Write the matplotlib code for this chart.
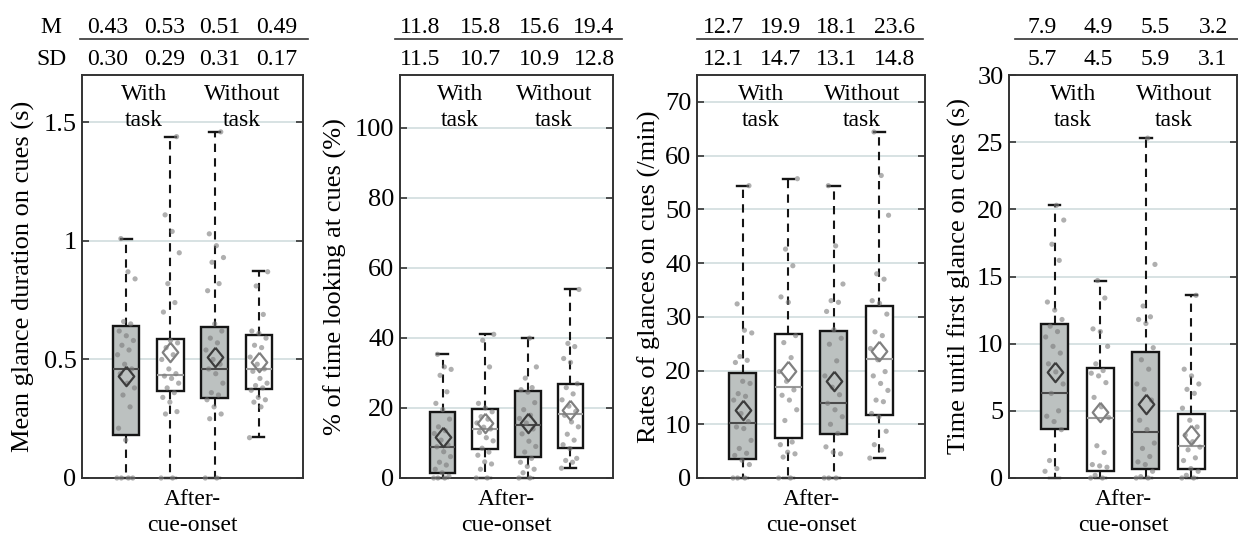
import numpy as np
import matplotlib.pyplot as plt

plt.rcParams['font.family'] = ['Liberation Serif', 'DejaVu Serif']

# box statistics (order: with task A, with task B, without task A, without task B)
dur_q1 = [0.18, 0.367, 0.337, 0.375]
dur_med = [0.46, 0.435, 0.46, 0.46]
dur_q3 = [0.64, 0.587, 0.637, 0.603]
dur_lo = [0.0, 0.0, 0.0, 0.173]
dur_hi = [1.01, 1.44, 1.46, 0.875]
dur_m = [0.43, 0.53, 0.51, 0.49]
dur_sd = [0.30, 0.29, 0.31, 0.17]

pct_q1 = [1.4, 8.3, 6.0, 8.6]
pct_med = [8.9, 14.0, 15.1, 18.3]
pct_q3 = [18.9, 19.7, 24.8, 26.8]
pct_lo = [0.0, 0.0, 0.0, 2.8]
pct_hi = [35.3, 41.0, 39.9, 53.8]
pct_m = [11.8, 15.8, 15.6, 19.4]
pct_sd = [11.5, 10.7, 10.9, 12.8]

rate_q1 = [3.5, 7.4, 8.1, 11.8]
rate_med = [10.3, 17.0, 14.0, 22.1]
rate_q3 = [19.5, 26.8, 27.3, 32.1]
rate_lo = [0.0, 0.0, 0.0, 3.7]
rate_hi = [54.4, 55.7, 54.4, 64.4]
rate_m = [12.7, 19.9, 18.1, 23.6]
rate_sd = [12.1, 14.7, 13.1, 14.8]

ttf_q1 = [3.65, 0.55, 0.7, 0.7]
ttf_med = [6.3, 4.5, 3.4, 2.4]
ttf_q3 = [11.5, 8.2, 9.4, 4.8]
ttf_lo = [0.0, 0.0, 0.0, 0.0]
ttf_hi = [20.3, 14.7, 25.3, 13.6]
ttf_m = [7.9, 4.9, 5.5, 3.2]
ttf_sd = [5.7, 4.5, 5.9, 3.1]

# individual participant values (estimated from the dots)
dur_pts = [
    [0, 0, 0, 0, 0.16, 0.21, 0.30, 0.35, 0.38, 0.40, 0.44, 0.46, 0.48, 0.52, 0.54, 0.56, 0.58, 0.60, 0.62, 0.65, 0.66, 0.84, 0.87, 1.01],
    [0, 0, 0.27, 0.28, 0.32, 0.34, 0.36, 0.38, 0.40, 0.42, 0.43, 0.44, 0.46, 0.50, 0.52, 0.55, 0.57, 0.58, 0.70, 0.74, 0.82, 0.95, 1.04, 1.11, 1.44],
    [0, 0, 0.25, 0.27, 0.30, 0.33, 0.35, 0.36, 0.40, 0.44, 0.46, 0.48, 0.50, 0.54, 0.57, 0.59, 0.62, 0.65, 0.79, 0.82, 0.91, 0.93, 0.98, 1.03, 1.46],
    [0.17, 0.30, 0.32, 0.33, 0.34, 0.37, 0.38, 0.39, 0.40, 0.42, 0.45, 0.46, 0.48, 0.51, 0.55, 0.56, 0.59, 0.61, 0.62, 0.69, 0.81, 0.87],
]
pct_pts = [
    [0, 0, 0, 0.5, 1.5, 2.5, 3.7, 4.5, 6.1, 7.5, 8.9, 9.5, 10.8, 12.7, 13.5, 14.6, 16.8, 19.5, 21.3, 24.6, 29.3, 31.0, 31.7, 35.3],
    [0, 0, 2.5, 4.0, 4.6, 6.5, 7.4, 8.5, 10.6, 11.5, 13.0, 14.0, 14.5, 15.7, 16.8, 17.5, 18.9, 20.0, 21.3, 31.7, 39.3, 41.0],
    [0, 0, 1.5, 2.5, 3.3, 4.5, 5.6, 7.4, 9.0, 10.5, 12.6, 14.0, 15.7, 17.0, 17.9, 19.5, 21.5, 24.5, 25.2, 25.8, 28.5, 31.7, 39.9],
    [2.8, 4.5, 5.0, 5.6, 8.4, 9.5, 10.8, 12.5, 14.6, 16.0, 17.9, 19.0, 20.5, 22.3, 24.0, 25.8, 26.9, 33.0, 34.1, 37.5, 38.4, 53.8],
]
rate_pts = [
    [0, 0, 0, 2.5, 3.3, 4.2, 4.6, 5.5, 7.0, 9.2, 9.5, 10.5, 12.0, 14.5, 15.2, 15.7, 17.6, 18.0, 21.5, 21.9, 22.6, 27.0, 27.5, 32.4, 54.4],
    [0, 0, 3.9, 4.5, 4.8, 6.2, 6.7, 10.7, 12.7, 14.5, 15.4, 16.4, 18.0, 19.8, 22.4, 25.2, 26.5, 32.7, 33.7, 39.5, 42.6, 55.7],
    [0, 0, 0, 4.5, 4.8, 5.8, 8.3, 10.0, 11.4, 12.7, 13.9, 15.5, 16.9, 19.0, 21.8, 24.9, 26.0, 27.6, 31.0, 32.7, 33.0, 36.1, 43.2, 54.4],
    [3.7, 5.2, 6.2, 8.7, 11.4, 12.0, 14.2, 14.5, 16.3, 17.6, 19.0, 19.8, 22.0, 24.1, 26.5, 27.2, 30.5, 32.5, 33.0, 37.0, 38.0, 48.9, 56.3, 64.4],
]
ttf_pts = [
    [0.5, 0.7, 1.3, 3.6, 4.2, 4.6, 5.0, 6.3, 7.0, 7.9, 8.5, 9.3, 9.8, 10.5, 10.9, 11.3, 11.8, 12.5, 13.1, 16.2, 17.4, 19.2, 20.3],
    [0, 0, 0.2, 0.8, 0.9, 1.0, 1.9, 2.4, 4.5, 5.3, 6.0, 7.1, 7.6, 7.8, 8.0, 8.5, 9.8, 10.9, 11.1, 13.4, 14.7],
    [0, 0, 0.1, 0.5, 1.0, 1.2, 1.6, 2.2, 2.6, 3.6, 4.3, 5.8, 6.6, 7.0, 8.1, 8.8, 9.7, 11.5, 11.8, 12.0, 12.8, 15.9, 25.3],
    [0, 0, 0.2, 0.5, 0.7, 1.3, 1.5, 2.1, 2.3, 2.7, 3.2, 3.8, 4.3, 5.2, 6.3, 6.6, 7.0, 7.6, 8.1, 13.6],
]

ylabels = ['Mean glance duration on cues (s)', '% of time looking at cues (%)',
           'Rates of glances on cues (/min)', 'Time until first glance on cues (s)']
xlabel_lines = ['After-', 'cue-onset']
groups = [('With', 'task'), ('Without', 'task')]

panels = [
    (dur_q1, dur_med, dur_q3, dur_lo, dur_hi, dur_m, dur_sd, dur_pts),
    (pct_q1, pct_med, pct_q3, pct_lo, pct_hi, pct_m, pct_sd, pct_pts),
    (rate_q1, rate_med, rate_q3, rate_lo, rate_hi, rate_m, rate_sd, rate_pts),
    (ttf_q1, ttf_med, ttf_q3, ttf_lo, ttf_hi, ttf_m, ttf_sd, ttf_pts),
]

# layout (pixels in a 1238x535 figure)
W, H = 1238, 535
ax_x = [(82, 303), (400, 613), (697, 925), (1009, 1237)]
ax_top, ax_bot = 75, 478
ylims = [1.7, 115, 75, 30]
yticks = [[0, 0.5, 1, 1.5], [0, 20, 40, 60, 80, 100], list(range(0, 71, 10)), [0, 5, 10, 15, 20, 25, 30]]
ytick_labels = [['0', '0.5', '1', '1.5'], None, None, None]
col_x = [[0.118, 0.376, 0.624, 0.882], [0.094, 0.376, 0.657, 0.911],
         [0.118, 0.368, 0.614, 0.868], [0.145, 0.39, 0.64, 0.895]]
line_x = [(-0.009, 1.023), (-0.023, 1.042), (0.0, 0.99), (0.026, 1.03)]
ylab_x = [-0.267, -0.305, -0.21, -0.219]

def yfrac(px):
    return (ax_bot - px) / (ax_bot - ax_top)

gray = '#bcc1c0'
face = [gray, 'white', gray, 'white']
med_col = ['#4a4a4a', '#9a9a9a', '#4a4a4a', '#9a9a9a']
dia_col = ['#3c3c3c', '#808080', '#3c3c3c', '#808080']
diamond = [(0, 1), (0.8, 0), (0, -1), (-0.8, 0), (0, 1)]
pos = [1, 2, 3, 4]

fig = plt.figure(figsize=(W / 100, H / 100), dpi=100)

for i, (q1, med, q3, lo, hi, m, sd, pts) in enumerate(panels):
    x0, x1 = ax_x[i]
    ax = fig.add_axes([x0 / W, 1 - ax_bot / H, (x1 - x0) / W, (ax_bot - ax_top) / H])
    ax.set_xlim(0, 5)
    ax.set_ylim(0, ylims[i])
    ax.yaxis.grid(True, color='#d4dfe0', lw=1.3)
    ax.set_axisbelow(True)

    stats = [dict(q1=q1[k], med=med[k], q3=q3[k], whislo=lo[k], whishi=hi[k], fliers=[])
             for k in range(4)]
    bp = ax.bxp(stats, positions=pos, widths=0.6, patch_artist=True, showfliers=False,
                capwidths=0.25,
                boxprops=dict(edgecolor='#151515', lw=1.7),
                whiskerprops=dict(color='#151515', lw=1.5, linestyle=(0, (4, 3))),
                capprops=dict(color='#151515', lw=1.7),
                medianprops=dict(lw=1.5))
    for k in range(4):
        bp['boxes'][k].set_facecolor(face[k])
        bp['boxes'][k].set_zorder(2)
        bp['medians'][k].set_color(med_col[k])
        bp['medians'][k].set_zorder(2.5)
        for art in bp['whiskers'][2 * k:2 * k + 2] + bp['caps'][2 * k:2 * k + 2]:
            art.set_clip_on(False)

    for k in range(4):
        vals = np.array(pts[k], dtype=float)
        n = len(vals)
        jit = ((np.arange(n) * 0.618) % 1 - 0.5) * 0.42
        ax.scatter(pos[k] + jit, vals, s=14, color='#7a7a7a', alpha=0.6,
                   edgecolors='none', zorder=3, clip_on=False)
        ax.plot(pos[k], m[k], marker=diamond, markersize=14, mfc='none',
                mec=dia_col[k], mew=1.6, zorder=4)

    ax.set_yticks(yticks[i])
    if ytick_labels[i] is not None:
        ax.set_yticklabels(ytick_labels[i])
    ax.set_xticks([])
    ax.tick_params(axis='y', direction='in', length=5, width=1.2, right=True,
                   labelsize=19, pad=4, color='#333333')
    for sp in ax.spines.values():
        sp.set_color('#333333')
        sp.set_linewidth(1.4)

    ax.text(ylab_x[i], 0.5, ylabels[i], transform=ax.transAxes, rotation=90,
            ha='center', va='center', fontsize=19)

    # group labels inside the panel
    tr = ax.get_xaxis_transform()
    for gx, (l1, l2) in zip([1.4, 3.62], groups):
        ax.text(gx, yfrac(100), l1, transform=tr, ha='center', va='baseline', fontsize=17)
        ax.text(gx, yfrac(126.5), l2, transform=tr, ha='center', va='baseline', fontsize=17)

    ax.text(2.5, yfrac(505), xlabel_lines[0], transform=tr, ha='center', va='baseline', fontsize=17)
    ax.text(2.5, yfrac(531), xlabel_lines[1], transform=tr, ha='center', va='baseline', fontsize=17)

    # M / SD table above the panel
    for k in range(4):
        mtxt = f'{m[k]:.2f}' if i == 0 else f'{m[k]:.1f}'
        stxt = f'{sd[k]:.2f}' if i == 0 else f'{sd[k]:.1f}'
        ax.text(col_x[i][k], yfrac(33), mtxt, transform=ax.transAxes, ha='center',
                va='baseline', fontsize=17)
        ax.text(col_x[i][k], yfrac(65), stxt, transform=ax.transAxes, ha='center',
                va='baseline', fontsize=17)
    ax.plot(line_x[i], [yfrac(39.5)] * 2, transform=ax.transAxes, color='#333333',
            lw=1.2, clip_on=False)
    if i == 0:
        ax.text(-0.14, yfrac(33), 'M', transform=ax.transAxes, ha='center', va='baseline', fontsize=17)
        ax.text(-0.14, yfrac(65), 'SD', transform=ax.transAxes, ha='center', va='baseline', fontsize=17)

fig.savefig('out.png', dpi=100)
